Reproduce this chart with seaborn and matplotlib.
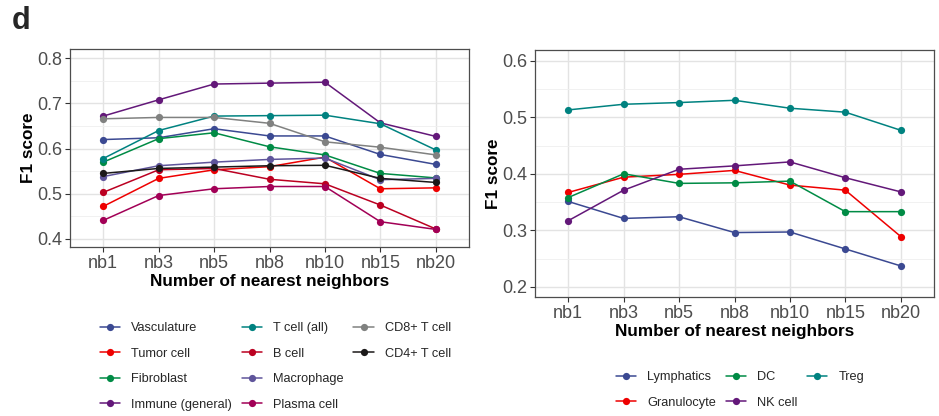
import matplotlib
matplotlib.use("Agg")
import matplotlib.pyplot as plt
from matplotlib.ticker import MultipleLocator
from matplotlib.lines import Line2D
import seaborn as sns
import pandas as pd

# ---------------- data ----------------
neighbors = ["nb1", "nb3", "nb5", "nb8", "nb10", "nb15", "nb20"]

left_labels = ["Vasculature", "Tumor cell", "Fibroblast", "Immune (general)",
               "T cell (all)", "B cell", "Macrophage", "Plasma cell",
               "CD8+ T cell", "CD4+ T cell"]
vasculature = [0.620, 0.624, 0.644, 0.628, 0.628, 0.587, 0.565]
tumor_cell = [0.472, 0.534, 0.553, 0.560, 0.581, 0.511, 0.513]
fibroblast = [0.570, 0.622, 0.635, 0.604, 0.586, 0.545, 0.535]
immune_general = [0.672, 0.708, 0.743, 0.745, 0.747, 0.657, 0.627]
t_cell_all = [0.578, 0.640, 0.672, 0.673, 0.674, 0.655, 0.597]
b_cell = [0.503, 0.553, 0.556, 0.532, 0.522, 0.475, 0.422]
macrophage = [0.538, 0.562, 0.570, 0.576, 0.579, 0.531, 0.534]
plasma_cell = [0.441, 0.496, 0.511, 0.516, 0.516, 0.438, 0.421]
cd8_t_cell = [0.666, 0.669, 0.669, 0.656, 0.615, 0.603, 0.586]
cd4_t_cell = [0.545, 0.556, 0.559, 0.562, 0.563, 0.534, 0.525]
left_values = [vasculature, tumor_cell, fibroblast, immune_general, t_cell_all,
               b_cell, macrophage, plasma_cell, cd8_t_cell, cd4_t_cell]

right_labels = ["Lymphatics", "Granulocyte", "DC", "NK cell", "Treg"]
lymphatics = [0.351, 0.321, 0.324, 0.296, 0.297, 0.267, 0.237]
granulocyte = [0.367, 0.394, 0.399, 0.406, 0.380, 0.371, 0.289]
dc = [0.358, 0.400, 0.383, 0.384, 0.387, 0.333, 0.333]
nk_cell = [0.317, 0.371, 0.408, 0.414, 0.421, 0.393, 0.368]
treg = [0.513, 0.523, 0.526, 0.530, 0.516, 0.509, 0.477]
right_values = [lymphatics, granulocyte, dc, nk_cell, treg]

aaas = ["#3B4992", "#EE0000", "#008B45", "#631879", "#008280",
        "#BB0021", "#5F559B", "#A20056", "#808180", "#1B1919"]
left_palette = dict(zip(left_labels, aaas))
right_palette = dict(zip(right_labels, aaas[:5]))


def long_df(labels, values):
    rows = []
    for lab, vals in zip(labels, values):
        for k, v in zip(neighbors, vals):
            rows.append({"k": k, "f1": v, "cell": lab})
    return pd.DataFrame(rows)


sns.set_theme(style="white")
plt.rcParams["font.family"] = ["Liberation Sans", "DejaVu Sans"]

W, H = 939, 416
fig = plt.figure(figsize=(W / 100, H / 100), dpi=100)


def px_axes(x0, y0, x1, y1):
    return fig.add_axes([x0 / W, 1 - y1 / H, (x1 - x0) / W, (y1 - y0) / H])


ax1 = px_axes(70, 49, 469, 247)
ax2 = px_axes(535, 50, 934, 297)


def style_axes(ax, df, labels, palette, ylim, yticks):
    sns.lineplot(data=df, x="k", y="f1", hue="cell", hue_order=labels,
                 palette=palette, marker="o", markersize=5.2,
                 markeredgewidth=0, linewidth=1.1, sort=False, ax=ax,
                 errorbar=None)
    ax.set_xlim(-0.6, 6.6)
    ax.set_ylim(*ylim)
    ax.set_yticks(yticks)
    ax.yaxis.set_minor_locator(MultipleLocator(0.05))
    ax.set_axisbelow(True)
    ax.grid(which="major", color="#E3E3E3", linewidth=1.0)
    ax.grid(which="minor", axis="y", color="#EFEFEF", linewidth=0.6)
    for s in ax.spines.values():
        s.set_color("#4D4D4D")
        s.set_linewidth(0.9)
    ax.tick_params(axis="both", which="major", length=3.5, width=0.8,
                   color="#333333", labelcolor="#4D4D4D", labelsize=13,
                   pad=2, left=True, bottom=True)
    ax.tick_params(axis="y", which="minor", length=0)
    ax.set_yticklabels([f"{t:.1f}" for t in yticks])
    ax.set_xlabel("Number of nearest neighbors", fontsize=12.3,
                  fontweight="bold", color="black", labelpad=2)
    ax.set_ylabel("F1 score", fontsize=12.3, fontweight="bold",
                  color="black", labelpad=1)
    handles, labs = ax.get_legend_handles_labels()
    ax.get_legend().remove()
    return handles, labs


h1, l1 = style_axes(ax1, long_df(left_labels, left_values), left_labels,
                    left_palette, (0.382, 0.8206), [0.4, 0.5, 0.6, 0.7, 0.8])
h2, l2 = style_axes(ax2, long_df(right_labels, right_values), right_labels,
                    right_palette, (0.182, 0.619), [0.2, 0.3, 0.4, 0.5, 0.6])

# pad left legend so columns fill 4,4,2 like the original
blank = [Line2D([], [], linestyle="none", marker=None) for _ in range(2)]
h1 = h1 + blank
l1 = l1 + ["", ""]

leg_kw = dict(ncol=3, loc="upper left", frameon=False, fontsize=9.2,
              handlelength=1.6, handletextpad=0.85, columnspacing=0.75,
              labelspacing=1.06, borderpad=0, borderaxespad=0,
              markerscale=1.0)
fig.legend(h1, l1, bbox_to_anchor=(100 / W, 1 - 322 / H), **leg_kw)
fig.legend(h2, l2, bbox_to_anchor=(616 / W, 1 - 371 / H), **leg_kw)

fig.text(12 / W, 1 - 6 / H, "d", fontsize=22, fontweight="bold",
         ha="left", va="top")

fig.savefig("out.png", dpi=100)
